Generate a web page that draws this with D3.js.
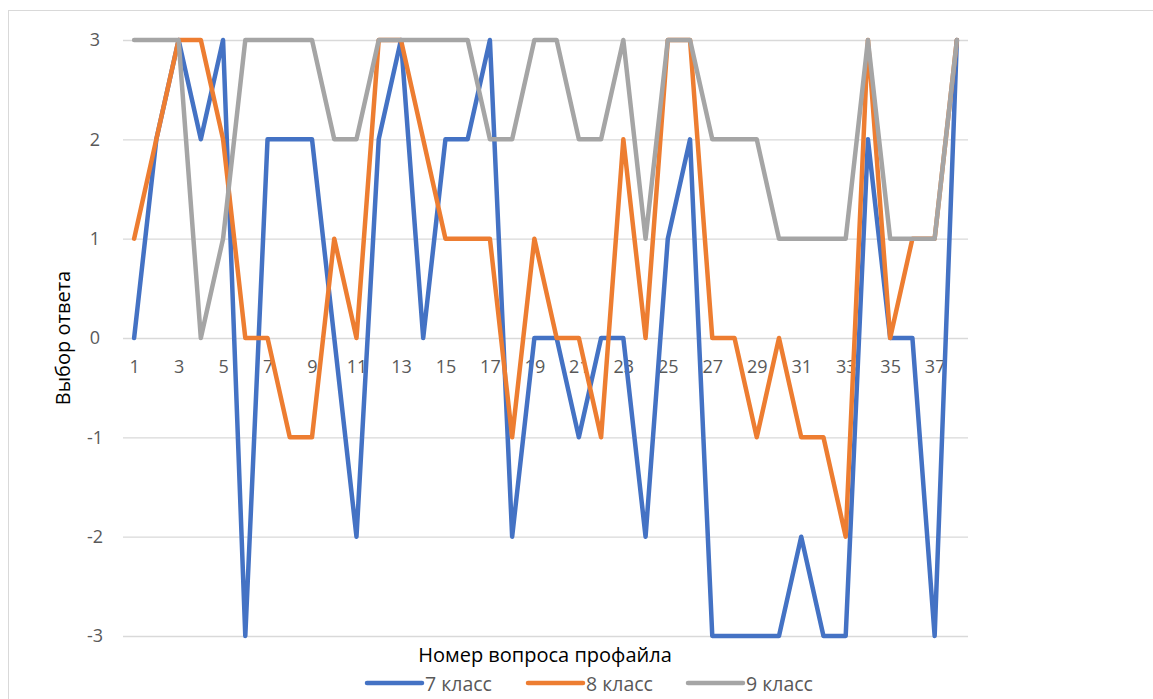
<!DOCTYPE html>
<html>
<head>
<meta charset="utf-8">
<script src="https://cdn.jsdelivr.net/npm/d3@7"></script>
<style>
  html, body { margin: 0; padding: 0; background: #fff; }
  svg { display: block; }
  text { font-family: "Open Sans", "Noto Sans", sans-serif; fill: #595959; }
</style>
</head>
<body>
<svg id="chart" width="1153" height="699"></svg>
<script>
// Question numbers of the profile (1..38)
const questions = ["1","2","3","4","5","6","7","8","9","10","11","12","13","14","15","16","17","18","19","20",
                   "21","22","23","24","25","26","27","28","29","30","31","32","33","34","35","36","37","38"];

// Chosen answer per question, by grade
const grade7 = [0, 2, 3, 2, 3, -3, 2, 2, 2, 0, -2, 2, 3, 0, 2, 2, 3, -2, 0, 0,
                -1, 0, 0, -2, 1, 2, -3, -3, -3, -3, -2, -3, -3, 2, 0, 0, -3, 3];
const grade8 = [1, 2, 3, 3, 2, 0, 0, -1, -1, 1, 0, 3, 3, 2, 1, 1, 1, -1, 1, 0,
                0, -1, 2, 0, 3, 3, 0, 0, -1, 0, -1, -1, -2, 3, 0, 1, 1, 3];
const grade9 = [3, 3, 3, 0, 1, 3, 3, 3, 3, 2, 2, 3, 3, 3, 3, 3, 2, 2, 3, 3,
                2, 2, 3, 1, 3, 3, 2, 2, 2, 1, 1, 1, 1, 3, 1, 1, 1, 3];

const seriesNames = ["7 класс", "8 класс", "9 класс"];
const seriesColors = ["#4472C4", "#ED7D31", "#A5A5A5"];
const yTicks = [-3, -2, -1, 0, 1, 2, 3];
const xTitle = "Номер вопроса профайла";
const yTitle = "Выбор ответа";

const series = [grade7, grade8, grade9].map((vals, i) => ({
  name: seriesNames[i], color: seriesColors[i], values: vals
}));

const svg = d3.select("#chart");

// chart frame
svg.append("rect")
  .attr("x", 8.5).attr("y", 10.5)
  .attr("width", 1160).attr("height", 700)
  .attr("fill", "none").attr("stroke", "#D9D9D9").attr("stroke-width", 1);

const plot = { left: 123, right: 968, top: 40, bottom: 636 };

const x = d3.scalePoint().domain(questions)
  .range([plot.left, plot.right]).padding(0.5);
const y = d3.scaleLinear().domain([-3, 3]).range([plot.bottom, plot.top]);

// horizontal gridlines + value labels (plain hyphen for negatives)
const yAxis = d3.axisLeft(y).tickValues(yTicks)
  .tickSize(-(plot.right - plot.left)).tickPadding(22)
  .tickFormat(d => String(d));
const gy = svg.append("g").attr("transform", `translate(${plot.left},0)`).call(yAxis);
gy.select(".domain").remove();
gy.selectAll(".tick line").attr("stroke", "#D9D9D9").attr("stroke-width", 1.3);
gy.selectAll(".tick text").attr("font-size", 18).attr("fill", "#595959")
  .attr("text-anchor", "middle").attr("x", -28);

// category labels sit on the zero line
const xAxis = d3.axisBottom(x)
  .tickValues(questions.filter((q, i) => i % 2 === 0))
  .tickSize(0).tickPadding(22);
const gx = svg.append("g").attr("transform", `translate(0,${y(0)})`).call(xAxis);
gx.select(".domain").remove();
gx.selectAll(".tick text").attr("font-size", 18).attr("fill", "#595959");

// lines
const line = d3.line()
  .x((d, i) => x(questions[i]))
  .y(d => y(d));

svg.append("g").selectAll("path")
  .data(series).join("path")
  .attr("d", d => line(d.values))
  .attr("fill", "none")
  .attr("stroke", d => d.color)
  .attr("stroke-width", 4.5)
  .attr("stroke-linejoin", "round")
  .attr("stroke-linecap", "round");

// axis titles
svg.append("text")
  .attr("transform", `translate(70,${(plot.top + plot.bottom) / 2}) rotate(-90)`)
  .attr("text-anchor", "middle")
  .attr("font-size", 20)
  .style("fill", "#000")
  .text(yTitle);

svg.append("text")
  .attr("x", 545).attr("y", 662)
  .attr("text-anchor", "middle")
  .attr("font-size", 20)
  .style("fill", "#000")
  .text(xTitle);

// legend
const legendX = [367, 528, 688];
const lg = svg.append("g").selectAll("g").data(series).join("g")
  .attr("transform", (d, i) => `translate(${legendX[i]},683)`);
lg.append("line")
  .attr("x1", 0).attr("x2", 55).attr("y1", 0).attr("y2", 0)
  .attr("stroke", d => d.color).attr("stroke-width", 4.5)
  .attr("stroke-linecap", "round");
lg.append("text")
  .attr("x", 58).attr("y", 8)
  .attr("font-size", 19.5)
  .text(d => d.name);
</script>
</body>
</html>
